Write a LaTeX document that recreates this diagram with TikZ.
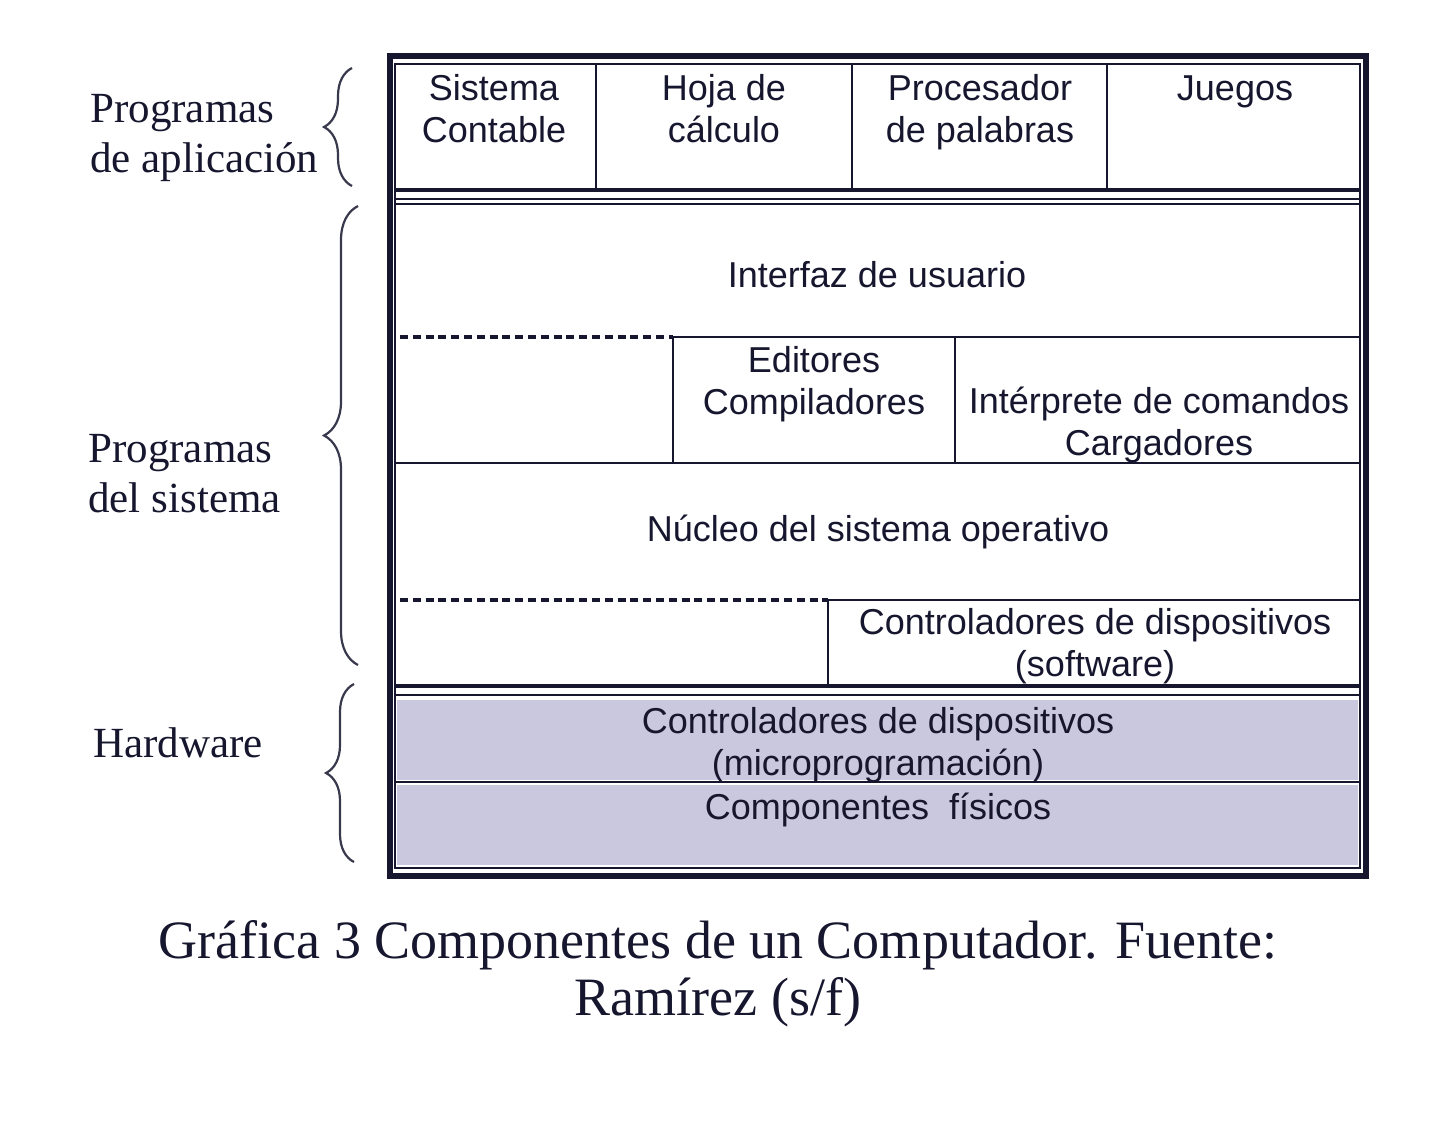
\documentclass[tikz,border=0pt]{standalone}
\usepackage{fontspec}
\setmainfont{Liberation Serif}
\newfontfamily\boxfont{Liberation Sans}
\usetikzlibrary{decorations.pathreplacing}
\definecolor{ink}{RGB}{22,22,46}
\definecolor{hwfill}{RGB}{202,200,222}
\begin{document}
\begin{tikzpicture}[x=0.5pt,y=-0.5pt,
  boxtxt/.style={font=\boxfont\fontsize{18}{21}\selectfont, align=center, anchor=base, inner sep=0pt, text=ink},
  sidelbl/.style={font=\fontsize{21.5}{25}\selectfont, align=left, anchor=base west, inner sep=0pt, text=ink},
  captxt/.style={font=\fontsize{27}{28.5}\selectfont, align=center, anchor=base, inner sep=0pt, text=ink},
  rule/.style={draw=ink, line width=1pt},
  heavyrule/.style={draw=ink, line width=1.6pt},
  dashrule/.style={draw=ink, line width=1.6pt, dash pattern=on 4pt off 2.4pt},
  bracestyle/.style={draw=ink!85, line width=1.1pt, decorate, decoration={brace, amplitude=14pt, aspect=0.5}}]
\useasboundingbox[fill=white] (0,0) rectangle (1440,1124);

% hardware fills
\fill[hwfill] (397,700) rectangle (1358,780);
\fill[hwfill] (397,785) rectangle (1358,865);

% frames
\draw[draw=ink, line width=2.6pt] (390,56) rectangle (1366,876);
\draw[rule] (395,64) rectangle (1360,868);

% section separators
\draw[heavyrule] (395,190) -- (1360,190);
\draw[rule] (395,199) -- (1360,199);
\draw[rule] (395,204) -- (1360,204);
\draw[heavyrule] (395,686) -- (1360,686);
\draw[rule] (395,695) -- (1360,695);
\draw[rule] (395,782) -- (1360,782);

% application columns
\draw[rule] (596,64) -- (596,190);
\draw[rule] (852,64) -- (852,190);
\draw[rule] (1107,64) -- (1107,190);

% system programs
\coordinate (d1a) at (400,337);
\coordinate (d1b) at (673,337);
\coordinate (d2a) at (400,600);
\coordinate (d2b) at (828,600);
\draw[dashrule] (d1a) -- (d1b);
\draw[rule] (d1b) -- (1360,337);
\draw[rule] (673,337) -- (673,463);
\draw[rule] (955,337) -- (955,463);
\draw[rule] (395,463) -- (1360,463);
\draw[dashrule] (d2a) -- (d2b);
\draw[rule] (d2b) -- (1360,600);
\draw[rule] (828,600) -- (828,686);

% box texts (anchor base = last line baseline)
\node[boxtxt] (sc) at (494,142) {Sistema\\Contable};
\node[boxtxt] (hc) at (724,142) {Hoja de\\cálculo};
\node[boxtxt] (pp) at (980,142) {Procesador\\de palabras};
\node[boxtxt] (jg) at (1235,100) {Juegos};
\node[boxtxt] (iu) at (877,287) {Interfaz de usuario};
\node[boxtxt] (ec) at (814,414) {Editores\\Compiladores};
\node[boxtxt] (ic) at (1159,455) {Intérprete de comandos\\Cargadores};
\node[boxtxt] (nu) at (878,541) {Núcleo del sistema operativo};
\node[boxtxt] (cs) at (1095,676) {Controladores de dispositivos\\(software)};
\node[boxtxt] (cm) at (878,775) {Controladores de dispositivos\\(microprogramación)};
\node[boxtxt] (cf) at (878,819) {Componentes~~físicos};

% side labels
\node[sidelbl] (la) at (90,172) {Programas\\de aplicación};
\node[sidelbl] (ls) at (88,512) {Programas\\del sistema};
\node[sidelbl] (lh) at (93,757) {Hardware};

% braces
\coordinate (b1s) at (352,186);
\coordinate (b1e) at (352,68);
\coordinate (b2s) at (358,665);
\coordinate (b2e) at (358,206);
\coordinate (b3s) at (354,862);
\coordinate (b3e) at (354,684);
\draw[bracestyle] (b1s) -- (b1e);
\draw[bracestyle, decoration={amplitude=17pt}] (b2s) -- (b2e);
\draw[bracestyle] (b3s) -- (b3e);

% caption
\node[captxt] (cap) at (718,1015) {Gráfica 3 Componentes de un Computador. Fuente:\\Ramírez (s/f)};
\end{tikzpicture}
\end{document}
